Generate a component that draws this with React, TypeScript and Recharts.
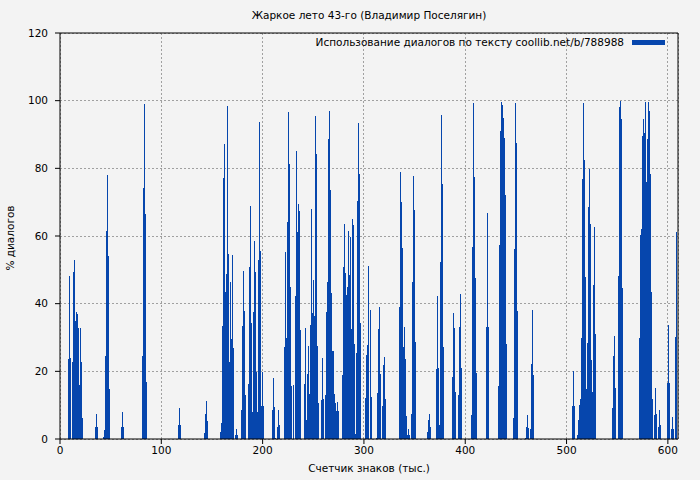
import { BarChart, Bar, XAxis, YAxis, CartesianGrid, ReferenceLine } from 'recharts';

// x = тысячи знаков, y = % диалогов; runs of non-zero bars
const RUN_STARTS = [
  8, 35, 43, 61, 81, 117, 143, 158, 173, 179, 186, 210, 222, 241, 258, 279, 302, 312, 318, 335,
  347, 363, 372, 387, 393, 406, 421, 433, 448, 459, 506, 511, 545, 551, 572, 587, 591, 600, 604,
];

const RUN_VALUES = [
  [23.6, 48.2, 24, 0, 22.7, 49.4, 52.9, 34.9, 37.5, 36.9, 32.9, 16, 32.9, 22.7, 6.3],
  [3.4, 7.5, 3.5],
  [0.6, 2.7, 24.5, 61.5, 78, 54.1, 14.8],
  [3.5, 8, 3.6],
  [24.5, 74.2, 99, 66.5, 16.8],
  [4.1, 9.1, 4.2],
  [1.8, 7.4, 11.2, 5.3],
  [2.1, 4.7, 33.4, 77.1, 87.2, 43.5, 48.8, 98.4, 54.7, 22.7, 46.4, 29.6, 54.4, 26.9],
  [1.2, 3, 1.2],
  [8.6, 33.4, 49.7, 37.8, 13],
  [16.3, 50.8, 68.9, 34.3, 8, 37.5, 58.5, 49.4, 19.8, 8, 52.9, 93.7, 55.6, 9.8, 19.8, 9.8],
  [8.6, 18, 9.5, 0.3, 0, 3.6, 8.6, 4.1],
  [27.2, 55.3, 29.9, 64.1, 96.7, 81.3, 44.9, 15.7, 16, 0, 42.3, 85.1, 61.2, 69.5, 67.4, 32.2],
  [16.3, 32.8, 5.6, 19.2, 27.5, 13.3, 33.7, 68, 37.2, 47, 36.4, 95.5, 84.2, 27.5, 10.6],
  [11.5, 23.9, 11.8, 0, 13, 37.5, 46.4, 88.7, 97, 73.6, 43.2, 26, 26, 13.3, 10.6, 8.3, 10.9, 8.3],
  [18.9, 50.8, 63.6, 49.1, 42.6, 44.9, 61.5, 48.5, 59.7, 32.5, 65, 63.3, 28.1, 1.5, 25.4, 70.3, 93.5, 78.3, 34.3],
  [12.1, 24.8, 27.8, 51.1, 38.1, 12.4],
  [0.4, 13.6, 32.5, 39, 19.2],
  [9.8, 21.9, 24.2, 11.8],
  [39, 78.9, 70.1, 56.5, 27.2, 33.1, 23.6, 6.8, 1.2, 2.9, 1.2],
  [7.4, 46.4, 77.7, 67.7, 28.7],
  [2.1, 5.6, 7.4, 3.5],
  [20.7, 42.3, 21, 4.2, 52.3, 95.8, 75.4, 27.2],
  [18.3, 37.2, 32.8, 13.9],
  [13, 33, 42.9, 21],
  [7.1, 56.8, 99.3, 77.4, 47.6, 19.5],
  [33.1, 66.8, 33.1],
  [15.7, 57.3, 91, 99.6, 98.7, 94.9, 89, 72.1, 28.1],
  [6.2, 56.2, 99.3, 87.5, 37.8],
  [0.3, 3.5, 7.1, 3.3, 0, 2.9, 22.2, 38.1, 18.9],
  [9.8, 20.1, 9.8],
  [1.2, 5.6, 10, 11.8, 29.9, 76.8, 99.3, 82.5, 47.9, 14.8, 28.4, 68.6, 79.8, 63.6, 23.3, 13.9, 45.5, 62.7, 31],
  [9.1, 24.5, 30.4, 15.1],
  [48.2, 98.1, 99.9, 94.6, 44.6],
  [29.9, 60.3, 62.1, 89.6, 94.6, 90.5, 99.6, 76, 88.7, 99.6, 97, 78.3, 43.5, 11.8],
  [7.1, 15.1, 7.4],
  [3.6, 8.6, 4.1],
  [16.6, 33.7, 16.6],
  [2.9, 6.5, 2.9, 0, 30.1, 61.2],
];

const X_MAX = 610;
const X_TICKS = [0, 100, 200, 300, 400, 500, 600];
const Y_TICKS = [0, 20, 40, 60, 80, 100, 120];

const FONT = '"DejaVu Sans", Verdana, sans-serif';
const BAR_COLOR = '#0646ad';

const data = Array.from({ length: X_MAX }, (_, i) => ({ x: i, pct: 0 }));
RUN_STARTS.forEach((start, r) => {
  RUN_VALUES[r].forEach((v, k) => {
    data[start + k].pct = v;
  });
});

const tickStyle = { fill: '#000', fontSize: 10.5, fontFamily: FONT };

export default function App() {
  return (
    <div
      style={{
        position: 'relative',
        width: 700,
        height: 480,
        background: '#f3f3f3',
        fontFamily: FONT,
        color: '#000',
        fontSize: 10.5,
      }}
    >
      <style>{'body{margin:0}'}</style>
      <BarChart
        width={700}
        height={480}
        data={data}
        margin={{ top: 33, right: 22, bottom: 0, left: 0 }}
        barCategoryGap={0}
        barGap={0}
      >
        <CartesianGrid stroke="#a0a0a0" strokeDasharray="2 2" shapeRendering="crispEdges" />
        <XAxis
          dataKey="x"
          type="number"
          domain={[0, X_MAX]}
          ticks={X_TICKS}
          height={41}
          stroke="#000"
          tickSize={5}
          tickMargin={3}
          tick={tickStyle}
          allowDecimals={false}
        />
        <YAxis
          domain={[0, 120]}
          ticks={Y_TICKS}
          width={60}
          stroke="#000"
          tickSize={5}
          tickMargin={7}
          tick={tickStyle}
        />
        <ReferenceLine y={120} stroke="#000" />
        <ReferenceLine x={X_MAX} stroke="#000" />
        <Bar dataKey="pct" fill={BAR_COLOR} shapeRendering="crispEdges" isAnimationActive={false} />
      </BarChart>

      <div style={{ position: 'absolute', left: 60, width: 618, top: 9, textAlign: 'center' }}>
        Жаркое лето 43-го (Владимир Поселягин)
      </div>
      <div
        style={{
          position: 'absolute',
          right: 35,
          top: 36,
          display: 'flex',
          alignItems: 'center',
          gap: 8,
        }}
      >
        <span>Использование диалогов по тексту coollib.net/b/788988</span>
        <span style={{ display: 'inline-block', width: 33, height: 5, background: BAR_COLOR }} />
      </div>
      <div style={{ position: 'absolute', left: 60, width: 618, top: 462, textAlign: 'center' }}>
        Счетчик знаков (тыс.)
      </div>
      <div
        style={{
          position: 'absolute',
          left: 10,
          top: 238,
          transform: 'translate(-50%, -50%) rotate(-90deg)',
          whiteSpace: 'nowrap',
        }}
      >
        % диалогов
      </div>
    </div>
  );
}
